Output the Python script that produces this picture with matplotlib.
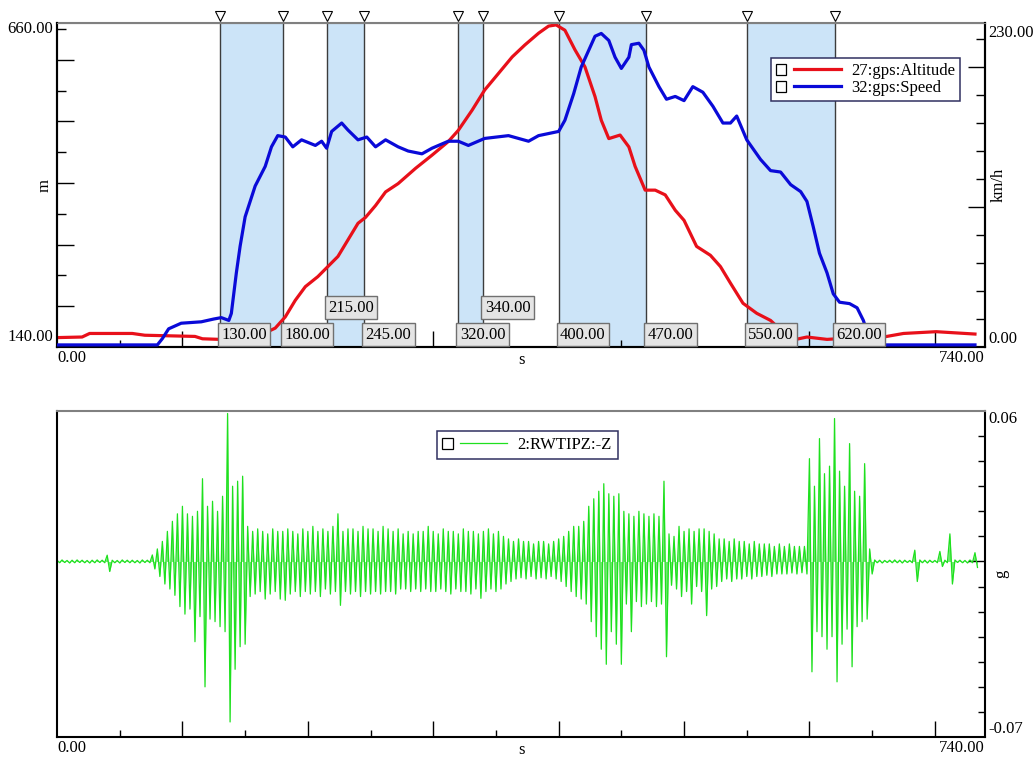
import numpy as np
import matplotlib.pyplot as plt
from matplotlib.transforms import blended_transform_factory
from matplotlib.patches import Rectangle
from matplotlib.lines import Line2D

plt.rcParams['font.family'] = ['Liberation Serif', 'DejaVu Serif']
plt.rcParams['font.size'] = 12

# --- data ----------------------------------------------------------------
# altitude (m) against time (s)
alt_t = [0, 20, 26, 60, 70, 110, 116, 130, 160, 168, 174, 182, 190, 198, 208, 216,
         224, 232, 240, 246, 254, 262, 272, 286, 299, 312, 320, 331, 341, 352, 363,
         373, 384, 392, 398, 405, 413, 421, 429, 434, 440, 449, 456, 461, 469, 477,
         485, 493, 500, 510, 521, 529, 537, 547, 558, 569, 578, 587, 598, 614, 630,
         659, 675, 701, 732]
alt_m = [139, 140, 146, 146, 143, 141, 137, 136, 139, 149, 155, 174, 202, 225, 242, 259,
         276, 304, 332, 342, 362, 385, 399, 425, 447, 470, 489, 523, 557, 585, 613,
         633, 653, 665, 667, 658, 625, 596, 546, 506, 475, 481, 461, 428, 388, 388,
         380, 354, 337, 293, 278, 259, 231, 197, 180, 168, 150, 135, 140, 136, 138,
         140, 146, 149, 145]

# speed (km/h) against time (s)
spd_t = [0, 80, 84, 89, 99, 115, 125, 131, 137, 139, 143, 146, 150, 158, 166, 171, 176,
         182, 188, 195, 206, 211, 215, 219, 227, 232, 240, 247, 254, 262, 272, 280, 291,
         299, 312, 320, 328, 341, 360, 376, 384, 400, 405, 412, 418, 429, 434, 440, 445,
         450, 456, 458, 464, 468, 472, 480, 486, 493, 500, 507, 515, 523, 531, 537, 542,
         550, 561, 569, 577, 585, 593, 598, 603, 608, 614, 619, 624, 632, 638, 643, 648,
         652, 732]
spd_kmh = [1.5, 1.5, 6, 13, 17, 18, 20, 21, 19, 24, 53, 72, 93, 115, 129, 143, 151,
           150, 143, 148, 144, 147, 142, 154, 160, 155, 148, 150, 143, 148, 143, 140, 138,
           142, 147, 147, 144, 149, 151, 147, 151, 154, 162, 181, 200, 222, 224, 219, 207,
           199, 207, 216, 217, 212, 200, 186, 177, 179, 176, 186, 182, 172, 160, 160, 165,
           148, 134, 126, 125, 116, 111, 104, 86, 67, 53, 38, 32, 31, 28, 19, 5,
           1.5, 1.5]

# marked intervals (s)
marks = [130, 180, 215, 245, 320, 340, 400, 470, 550, 620]
raised_marks = [215, 340]

# vibration signal: peak highs / lows (milli-g) in 4 s bins
vib_step = 4
vib_upper_mg = [0.5, 0.6, 0.4, 0.5, 0.6, 0.5, 0.4, 0.5, 0.6, 0.5,
                2.5,
                0.5, 0.4, 0.6, 0.5, 0.5, 0.4, 0.6, 0.5,
                2.6, 5, 8, 12, 16, 19, 22, 19, 18, 20, 33, 22, 24, 20, 26, 59, 30, 32, 34, 14, 12,
                13, 12, 11, 13, 12, 12, 13, 12, 11, 13, 12, 14, 12, 13, 12, 14, 19, 12, 13, 13, 12, 14, 13,
                13, 12, 14, 13, 12, 13,
                11, 12, 11, 12, 12, 14,
                12, 11, 13, 12, 12, 11, 13, 12, 12, 11, 12, 13, 11, 12,
                10, 9,
                8, 9, 8, 8, 7, 8, 8, 7, 8, 9,
                10, 12, 14, 14, 16,
                22, 25, 28, 31, 27, 26,
                27, 20, 19, 18, 20, 19, 18, 19, 18,
                32,
                11, 10, 14, 12,
                13, 12, 13, 13, 12, 11,
                9, 9, 8, 9, 8, 8, 7, 8, 7, 7, 7, 6, 7, 6, 7, 6, 6,
                6,
                41, 30, 49, 35, 38, 57, 36, 30, 47, 28, 26, 39, 5,
                0.6, 0.5, 0.4, 0.5, 0.6, 0.5, 0.5, 0.4, 4.5, 0.6, 0.5, 0.5, 0.4, 4, 0.5, 11,
                0.6, 0.5, 0.4, 0.6, 3.5]
vib_lower_mg = [-0.5, -0.4, -0.6, -0.5, -0.4, -0.5, -0.6, -0.5, -0.4, -0.5,
                -4,
                -0.5, -0.6, -0.4, -0.5, -0.5, -0.6, -0.4, -0.5,
                -3, -6, -9, -11, -13.5, -18, -21, -19, -32, -22, -50, -23, -24, -26, -28, -64, -43, -34, -33, -14, -13,
                -12, -15, -13, -12, -15, -15.5, -13, -12, -14, -12, -13, -12, -14, -11, -13, -12, -17.5, -12, -13, -12, -14, -12, -13,
                -12, -13, -12, -12, -13, -11,
                -11, -12, -11, -12, -11, -12,
                -12, -11, -12, -13, -11, -12, -12, -13, -11, -14.7, -12, -11, -12, -11,
                -9, -8,
                -7, -6.5, -7, -6, -7, -6.5, -7, -6, -7, -8,
                -10, -12, -14, -15, -17,
                -24, -30, -35, -41, -28, -33,
                -41, -17, -28, -16, -18, -17, -16, -18, -17,
                -38,
                -9.5, -11, -14, -12,
                -17, -10, -12, -21.6, -11, -10,
                -8, -7, -8, -7, -7, -6, -7, -6, -6, -5.5, -6, -5, -5, -5, -4.6, -5, -4.5,
                -5,
                -44, -28, -30, -35, -30, -48, -33, -27, -42, -26, -24, -23, -5,
                -0.5, -0.6, -0.4, -0.5, -0.5, -0.6, -0.4, -0.5, -8, -0.5, -0.6, -0.4, -0.5, -2, -0.5, -9,
                -0.4, -0.5, -0.6, -0.5, -2.4]

# axis ranges
t_min, t_max = 0, 740
alt_lo, alt_hi = 140, 660
spd_hi = 230
g_lo, g_hi = -0.07, 0.06

RED = '#e8101a'
BLUE = '#0a0ad8'
GREEN = '#1ee01e'
SHADE = '#cce4f8'


class CheckLineHandler:
    """legend entry: small empty check box followed by a line sample"""
    def legend_artist(self, legend, orig_handle, fontsize, handlebox):
        x0, y0 = handlebox.xdescent, handlebox.ydescent
        w, h = handlebox.width, handlebox.height
        s = h * 0.9
        box = Rectangle((x0, y0 + (h - s) / 2), s, s, fc='white', ec='black', lw=0.9,
                        transform=handlebox.get_transform())
        line = Line2D([x0 + s + 0.45 * fontsize, x0 + w], [y0 + h / 2] * 2,
                      color=orig_handle.get_color(), lw=orig_handle.get_linewidth(),
                      transform=handlebox.get_transform())
        handlebox.add_artist(box)
        handlebox.add_artist(line)
        return line


def style_frame(ax):
    for side in ['left', 'bottom', 'right']:
        ax.spines[side].set_linewidth(1.5)
        ax.spines[side].set_color('black')
    ax.spines['top'].set_linewidth(1.5)
    ax.spines['top'].set_color('#808080')
    ax.set_xlim(t_min, t_max)
    ax.set_xticks(np.arange(100, t_max, 100))
    ax.set_xticks(np.arange(50, t_max, 100), minor=True)
    ax.tick_params(axis='x', which='major', direction='in', length=11.5, width=1, labelbottom=False)
    ax.tick_params(axis='x', which='minor', direction='in', length=5, width=1)
    trans = blended_transform_factory(ax.transData, ax.transAxes)
    ax.annotate(f'{t_min:.2f}', xy=(t_min, 0), xycoords=trans, xytext=(0, -8),
                textcoords='offset points', ha='left', va='center')
    ax.annotate(f'{t_max:.2f}', xy=(t_max, 0), xycoords=trans, xytext=(0, -8),
                textcoords='offset points', ha='right', va='center')
    ax.set_xlabel('s', labelpad=0)


fig = plt.figure(figsize=(10.35, 7.58), dpi=100)
ax1 = fig.add_axes([0.0551, 0.5422, 0.8966, 0.4274])
ax2 = fig.add_axes([0.0551, 0.0277, 0.8966, 0.4301])

# ---- top plot: altitude + speed ----
ax1.plot(alt_t, alt_m, color=RED, lw=2.3, label='27:gps:Altitude', zorder=3)
step_m = (alt_hi - alt_lo) / 10
ax1.set_ylim(alt_lo - 10 / (308 / (alt_hi - alt_lo)), alt_hi + 6 / (308 / (alt_hi - alt_lo)))
ax1.set_yticks(np.arange(alt_lo + step_m, alt_hi, 2 * step_m))
ax1.set_yticks(np.arange(alt_lo, alt_hi + 1, 2 * step_m), minor=True)
ax1.tick_params(axis='y', which='major', direction='in', length=12, width=1, labelleft=False)
ax1.tick_params(axis='y', which='minor', direction='in', length=6.5, width=1, labelleft=False)
ltrans = blended_transform_factory(ax1.transAxes, ax1.transData)
ax1.text(-0.004, alt_lo, f'{alt_lo:.2f}', transform=ltrans, ha='right', va='center')
ax1.text(-0.004, alt_hi, f'{alt_hi:.2f}', transform=ltrans, ha='right', va='center')
ax1.set_ylabel('m', labelpad=3)
style_frame(ax1)

for a, b in zip(marks[0::2], marks[1::2]):
    ax1.axvspan(a, b, color=SHADE, lw=0, zorder=0)
for m in marks:
    ax1.axvline(m, color='#3c3c3c', lw=1, zorder=1)

ax1r = ax1.twinx()
ax1r.plot(spd_t, spd_kmh, color=BLUE, lw=2.3, label='32:gps:Speed', zorder=3)
ax1r.set_ylim(0, 324 / 1.4)
ax1r.set_yticks([100, 200])
ax1r.set_yticks(np.arange(20, spd_hi, 20), minor=True)
ax1r.tick_params(axis='y', which='major', direction='in', length=12, width=1, labelright=False)
ax1r.tick_params(axis='y', which='minor', direction='in', length=6.5, width=1, labelright=False)
rtrans = blended_transform_factory(ax1r.transAxes, ax1r.transData)
ax1r.text(1.004, spd_hi, f'{spd_hi:.2f}', transform=rtrans, ha='left', va='top')
ax1r.text(1.004, 0, f'{0:.2f}', transform=rtrans, ha='left', va='bottom')
ax1r.set_ylabel('km/h', labelpad=4)
for side in ['left', 'bottom', 'right']:
    ax1r.spines[side].set_linewidth(1.5)
ax1r.spines['top'].set_color('#808080')

# interval labels and top markers
mtrans = blended_transform_factory(ax1r.transData, ax1r.transAxes)
for m in marks:
    dy = 22.5 if m in raised_marks else 3.2
    ax1r.annotate(f'{m:.2f}', xy=(m, 0), xycoords=mtrans, xytext=(1.0, dy),
                  textcoords='offset points', ha='left', va='bottom', zorder=6,
                  bbox=dict(boxstyle='square,pad=0.2', fc='#e4e4e4', ec='#707070', lw=1))
ax1r.plot(marks, [1.022] * len(marks), ls='none', marker='v', ms=7, mfc='white',
          mec='black', mew=0.8, transform=mtrans, clip_on=False)

h1, l1 = ax1.get_legend_handles_labels()
h2, l2 = ax1r.get_legend_handles_labels()
leg = ax1r.legend(h1 + h2, l1 + l2, loc='upper right', bbox_to_anchor=(0.982, 0.917),
                  handler_map={Line2D: CheckLineHandler()}, handlelength=3.9,
                  fancybox=False, framealpha=1, edgecolor='#303060',
                  borderpad=0.3, labelspacing=0.05, handletextpad=0.6)
leg.get_frame().set_linewidth(1.1)
leg.set_zorder(10)

# ---- bottom plot: vibration ----
vib_t = np.arange(len(vib_upper_mg)) * vib_step
zig_t = np.column_stack([vib_t, vib_t + vib_step / 2]).ravel()
zig_g = np.column_stack([vib_upper_mg, vib_lower_mg]).ravel() / 1000
ax2.fill_between(zig_t, zig_g, 0, color=GREEN, alpha=0.65, lw=0)
ax2.plot(zig_t, zig_g, color=GREEN, lw=0.9, label='2:RWTIPZ:-Z')
ax2.set_ylim(g_lo, g_hi)
ax2.yaxis.tick_right()
ax2.set_yticks([0])
ax2.set_yticks(np.arange(-6, 6) / 100, minor=True)
ax2.tick_params(axis='y', which='major', direction='in', length=12.5, width=1, labelright=False)
ax2.tick_params(axis='y', which='minor', direction='in', length=5, width=1, labelright=False)
gtrans = blended_transform_factory(ax2.transAxes, ax2.transData)
ax2.text(1.004, g_hi, f'{g_hi:.2f}', transform=gtrans, ha='left', va='top')
ax2.text(1.004, g_lo, f'{g_lo:.2f}', transform=gtrans, ha='left', va='bottom')
ax2.yaxis.set_label_position('right')
ax2.set_ylabel('g', labelpad=6)
style_frame(ax2)
leg2 = ax2.legend(loc='upper center', bbox_to_anchor=(0.5065, 0.963),
                  handler_map={Line2D: CheckLineHandler()}, handlelength=3.9,
                  fancybox=False, framealpha=1, edgecolor='#303060',
                  borderpad=0.35, handletextpad=0.6)
leg2.get_frame().set_linewidth(1.1)

fig.savefig('out.png', dpi=100)
